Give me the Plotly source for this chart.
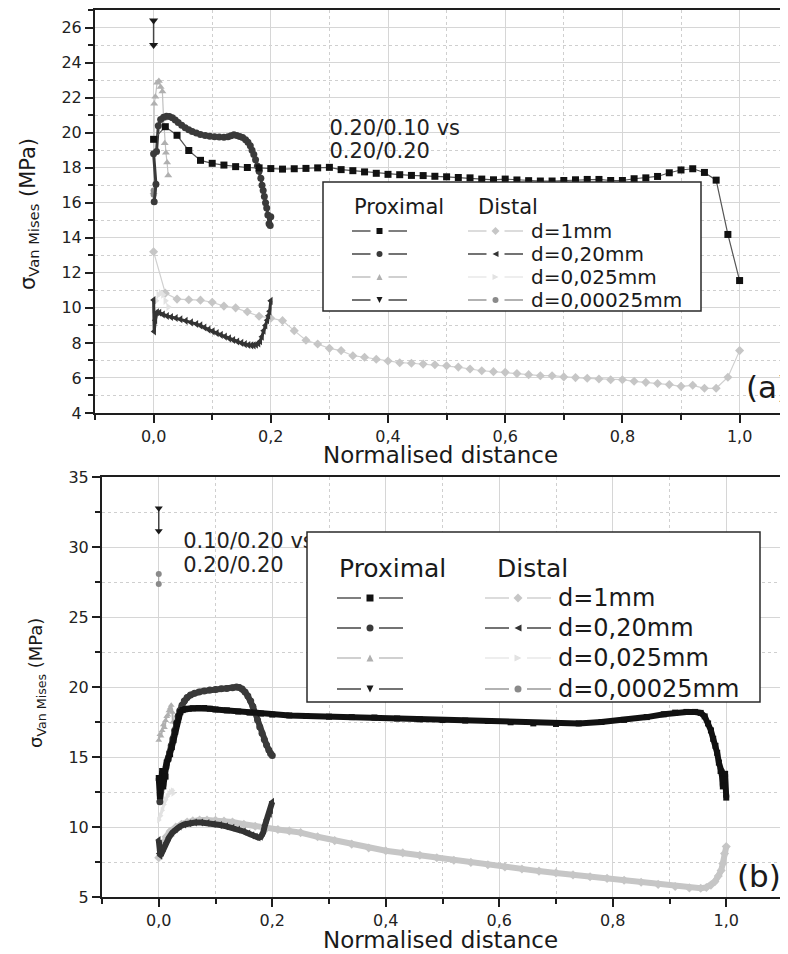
import plotly.graph_objects as go

# The page body has an 8 px margin, so the figure is sized to fill the rest of the 788x954 window.
OFF = 8
W, H = 788 - OFF, 954 - OFF
FONT = "DejaVu Sans"

# ================= DATA =================
LEGEND_LABELS = ["d=1mm", "d=0,20mm", "d=0,025mm", "d=0,00025mm"]
TITLE_A = ["0.20/0.10 vs", "0.20/0.20"]
TITLE_B = ["0.10/0.20 vs", "0.20/0.20"]

# ---- panel (a): Proximal ----
a_p1_x = [0.0, 0.02, 0.04, 0.06, 0.08, 0.10, 0.12, 0.14, 0.16, 0.18, 0.20, 0.22, 0.24, 0.26, 0.28, 0.30,
          0.32, 0.34, 0.36, 0.38, 0.40, 0.42, 0.44, 0.46, 0.48, 0.50, 0.52, 0.54, 0.56, 0.58, 0.60, 0.62,
          0.64, 0.66, 0.68, 0.70, 0.72, 0.74, 0.76, 0.78, 0.80, 0.82, 0.84, 0.86, 0.88, 0.90, 0.92, 0.94,
          0.96, 0.98, 1.00]
a_p1_y = [19.62, 20.34, 19.85, 18.98, 18.42, 18.25, 18.15, 18.06, 18.01, 17.99, 17.95, 17.92, 17.94, 17.96,
          17.99, 18.02, 17.89, 17.83, 17.76, 17.68, 17.62, 17.60, 17.56, 17.55, 17.51, 17.48, 17.44, 17.42,
          17.35, 17.31, 17.35, 17.30, 17.26, 17.24, 17.24, 17.27, 17.31, 17.33, 17.33, 17.27, 17.27, 17.37,
          17.42, 17.50, 17.71, 17.87, 17.94, 17.73, 17.29, 14.19, 11.56]

a_p2_x = [0.001, 0.004, 0.0, 0.005, 0.008, 0.012, 0.017, 0.022, 0.027, 0.032, 0.037, 0.042, 0.048, 0.054,
          0.060, 0.066, 0.073, 0.080, 0.088, 0.096, 0.104, 0.112, 0.120, 0.127, 0.132, 0.137, 0.142, 0.147,
          0.152, 0.157, 0.161, 0.165, 0.168, 0.171, 0.174, 0.177, 0.180, 0.183, 0.185, 0.187, 0.189, 0.191,
          0.193, 0.195, 0.197, 0.199, 0.200]
a_p2_y = [16.05, 17.05, 18.80, 18.92, 20.40, 20.75, 20.88, 20.93, 20.92, 20.85, 20.72, 20.58, 20.42, 20.28,
          20.16, 20.06, 19.98, 19.90, 19.84, 19.80, 19.77, 19.75, 19.74, 19.76, 19.82, 19.88, 19.84, 19.78,
          19.72, 19.60, 19.45, 19.25, 19.00, 18.75, 18.45, 18.10, 17.80, 17.40, 17.00, 16.70, 16.35, 16.00,
          15.70, 15.30, 14.80, 14.70, 15.20]

a_p3_x = [0.0, 0.001, 0.003, 0.006, 0.009, 0.012, 0.015, 0.017, 0.019, 0.021, 0.023, 0.025]
a_p3_y = [16.6, 21.65, 22.05, 22.85, 22.95, 22.6, 22.35, 20.8, 19.4, 18.85, 18.3, 17.55]

a_p4_x = [0.0, 0.0]
a_p4_y = [26.4, 25.0]

# ---- panel (a): Distal ----
a_d1_x = [0.0, 0.02, 0.04, 0.06, 0.08, 0.10, 0.12, 0.14, 0.16, 0.18, 0.20, 0.22, 0.24, 0.26, 0.28, 0.30,
          0.32, 0.34, 0.36, 0.38, 0.40, 0.42, 0.44, 0.46, 0.48, 0.50, 0.52, 0.54, 0.56, 0.58, 0.60, 0.62,
          0.64, 0.66, 0.68, 0.70, 0.72, 0.74, 0.76, 0.78, 0.80, 0.82, 0.84, 0.86, 0.88, 0.90, 0.92, 0.94,
          0.96, 0.98, 1.00]
a_d1_y = [13.2, 10.84, 10.5, 10.46, 10.44, 10.32, 10.1, 10.0, 9.78, 9.52, 9.41, 9.27, 8.7, 8.15, 7.94, 7.69,
          7.56, 7.27, 7.18, 7.07, 6.97, 6.87, 6.84, 6.79, 6.75, 6.70, 6.62, 6.51, 6.41, 6.36, 6.32, 6.25,
          6.19, 6.13, 6.13, 6.06, 6.02, 5.98, 5.94, 5.90, 5.90, 5.81, 5.75, 5.68, 5.62, 5.52, 5.58, 5.41,
          5.41, 6.04, 7.56]

a_d2_x = [0.0, 0.001, 0.003, 0.006, 0.010, 0.016, 0.023, 0.030, 0.038, 0.046, 0.055, 0.064, 0.073, 0.080,
          0.087, 0.094, 0.101, 0.108, 0.115, 0.122, 0.129, 0.136, 0.143, 0.150, 0.156, 0.162, 0.167, 0.171,
          0.175, 0.179, 0.182, 0.185, 0.188, 0.191, 0.194, 0.196, 0.198, 0.200]
a_d2_y = [10.45, 8.65, 9.30, 9.75, 9.72, 9.62, 9.54, 9.48, 9.42, 9.35, 9.26, 9.17, 9.08, 9.00, 8.88, 8.76,
          8.66, 8.56, 8.46, 8.36, 8.26, 8.17, 8.08, 8.00, 7.93, 7.88, 7.86, 7.86, 7.90, 7.97, 8.10, 8.35,
          8.70, 9.00, 9.30, 9.55, 9.80, 10.40]

a_d3_x = [0.0, 0.004, 0.008, 0.012, 0.016, 0.020, 0.025]
a_d3_y = [9.9, 10.4, 10.75, 10.85, 10.75, 10.4, 10.05]

a_d4_x = [0.0, 0.0]
a_d4_y = [16.7, 16.45]

# ---- panel (b): Proximal ----
b_p1_x = [0.000, 0.002, 0.004, 0.006, 0.008, 0.010, 0.012, 0.014, 0.017, 0.020, 0.023, 0.026, 0.029, 0.032,
          0.035, 0.038, 0.042, 0.047, 0.053, 0.060, 0.070, 0.080, 0.090, 0.100, 0.120, 0.140, 0.160, 0.180,
          0.200, 0.230, 0.260, 0.300, 0.340, 0.380, 0.420, 0.460, 0.500, 0.540, 0.580, 0.620, 0.660, 0.700,
          0.740, 0.780, 0.820, 0.860, 0.890, 0.910, 0.930, 0.945, 0.955, 0.962, 0.968, 0.973, 0.977, 0.981,
          0.984, 0.987, 0.990, 0.992, 0.994, 0.996, 0.998, 1.000]
b_p1_y = [13.5, 12.2, 13.0, 14.0, 12.9, 13.9, 13.6, 14.6, 14.9, 15.2, 15.7, 16.2, 16.8, 17.4, 17.9, 18.2,
          18.35, 18.42, 18.45, 18.48, 18.5, 18.5, 18.45, 18.4, 18.33, 18.25, 18.17, 18.1, 18.03, 17.97, 17.93,
          17.88, 17.85, 17.82, 17.75, 17.69, 17.64, 17.6, 17.57, 17.48, 17.4, 17.36, 17.4, 17.5, 17.65, 17.85,
          18.05, 18.17, 18.22, 18.22, 18.15, 17.9, 17.4, 16.9, 16.3, 15.8, 15.3, 14.6, 14.0, 13.9, 12.9, 13.4,
          13.8, 12.1]

b_p2_x = [0.002, 0.004, 0.007, 0.010, 0.013, 0.016, 0.019, 0.022, 0.025, 0.028, 0.031, 0.034, 0.037, 0.041,
          0.045, 0.050, 0.056, 0.063, 0.071, 0.080, 0.090, 0.100, 0.110, 0.120, 0.130, 0.137, 0.142, 0.147,
          0.152, 0.157, 0.162, 0.166, 0.170, 0.174, 0.178, 0.182, 0.186, 0.190, 0.194, 0.197, 0.200]
b_p2_y = [11.8, 12.8, 13.4, 13.9, 14.3, 14.8, 15.3, 15.8, 16.3, 16.9, 17.4, 17.9, 18.3, 18.7, 19.0, 19.25,
          19.43, 19.55, 19.65, 19.72, 19.78, 19.83, 19.87, 19.9, 19.95, 20.0, 19.97, 19.85, 19.65, 19.35, 19.0,
          18.6, 18.15, 17.65, 17.15, 16.7, 16.25, 15.85, 15.5, 15.25, 15.1]

b_p3_x = [0.0, 0.002, 0.004, 0.006, 0.008, 0.010, 0.012, 0.014, 0.016, 0.018, 0.020, 0.022, 0.024, 0.025]
b_p3_y = [16.2, 16.6, 16.5, 16.9, 17.3, 17.1, 17.6, 17.9, 18.0, 18.3, 18.5, 18.7, 18.2, 17.5]

b_p4_x = [0.0, 0.0]
b_p4_y = [32.76, 31.14]

# ---- panel (b): Distal ----
b_d1_x = [0.000, 0.004, 0.008, 0.013, 0.020, 0.030, 0.040, 0.050, 0.060, 0.072, 0.085, 0.100, 0.115, 0.130,
          0.150, 0.170, 0.190, 0.210, 0.230, 0.250, 0.280, 0.310, 0.340, 0.370, 0.400, 0.430, 0.460, 0.490,
          0.520, 0.550, 0.580, 0.610, 0.640, 0.670, 0.700, 0.730, 0.760, 0.790, 0.820, 0.850, 0.880, 0.910,
          0.935, 0.955, 0.965, 0.973, 0.980, 0.986, 0.991, 0.994, 0.997, 1.000]
b_d1_y = [7.8, 8.3, 8.8, 9.3, 9.7, 10.0, 10.2, 10.35, 10.45, 10.5, 10.5, 10.48, 10.42, 10.35, 10.2, 10.05,
          9.92, 9.82, 9.72, 9.6, 9.3, 9.03, 8.78, 8.5, 8.3, 8.15, 7.98, 7.8, 7.62, 7.47, 7.3, 7.15, 7.0, 6.85,
          6.72, 6.58, 6.45, 6.33, 6.2, 6.05, 5.9, 5.75, 5.65, 5.62, 5.68, 5.85, 6.1, 6.5, 6.9, 7.4, 8.1, 8.6]

b_d2_x = [0.000, 0.001, 0.003, 0.006, 0.009, 0.013, 0.018, 0.024, 0.030, 0.037, 0.045, 0.054, 0.064, 0.075,
          0.086, 0.097, 0.108, 0.119, 0.130, 0.140, 0.150, 0.158, 0.165, 0.171, 0.176, 0.180, 0.184, 0.187,
          0.190, 0.193, 0.196, 0.198, 0.200]
b_d2_y = [9.07, 8.1, 7.95, 8.2, 8.5, 8.85, 9.25, 9.6, 9.85, 10.03, 10.18, 10.27, 10.32, 10.32, 10.28, 10.22,
          10.14, 10.05, 9.95, 9.82, 9.68, 9.53, 9.4, 9.3, 9.25, 9.3, 9.6, 10.1, 10.5, 10.8, 10.95, 11.2, 11.8]

b_d3_x = [0.0, 0.003, 0.006, 0.009, 0.012, 0.015, 0.018, 0.021, 0.024, 0.025]
b_d3_y = [10.5, 10.8, 11.2, 11.6, 11.95, 12.2, 12.4, 12.5, 12.6, 12.4]

b_d4_x = [0.0, 0.0]
b_d4_y = [28.07, 27.36]

# ================= STYLES =================
# (symbol, marker colour, line colour)
PROX = [("square", "#111111", "#555555"), ("circle", "#3a3a3a", "#444444"),
        ("triangle-up", "#b0b0b0", "#c0c0c0"), ("triangle-down", "#1a1a1a", "#444444")]
DIST = [("diamond", "#c6c6c6", "#d0d0d0"), ("triangle-left", "#333333", "#444444"),
        ("triangle-right", "#e2e2e2", "#e8e8e8"), ("circle", "#8a8a8a", "#999999")]

fig = go.Figure()


def add(x, y, xa, ya, style, size, lw, name, dense=False):
    sym, mc, lc = style
    fig.add_trace(go.Scatter(
        x=x, y=y, xaxis=xa, yaxis=ya, mode="lines+markers", name=name, showlegend=False,
        marker=dict(symbol=sym, size=size, color=mc, line=dict(width=0)),
        line=dict(color=mc if dense else lc, width=lw), hoverinfo="skip"))


# panel (a)
add(a_d1_x, a_d1_y, "x", "y", DIST[0], 7, 1.2, "Distal d=1mm")
add(a_d3_x, a_d3_y, "x", "y", DIST[2], 7, 1, "Distal d=0,025mm")
add(a_p3_x, a_p3_y, "x", "y", PROX[2], 7, 1.2, "Proximal d=0,025mm")
add(a_d2_x, a_d2_y, "x", "y", DIST[1], 7, 3, "Distal d=0,20mm", dense=True)
add(a_d4_x, a_d4_y, "x", "y", DIST[3], 6, 1, "Distal d=0,00025mm")
add(a_p2_x, a_p2_y, "x", "y", PROX[1], 7, 3, "Proximal d=0,20mm", dense=True)
add(a_p4_x, a_p4_y, "x", "y", PROX[3], 8, 1.5, "Proximal d=0,00025mm")
add(a_p1_x, a_p1_y, "x", "y", PROX[0], 7, 1.2, "Proximal d=1mm")

# panel (b)
add(b_d1_x, b_d1_y, "x2", "y2", DIST[0], 7, 6, "Distal d=1mm", dense=True)
add(b_d3_x, b_d3_y, "x2", "y2", DIST[2], 6, 3, "Distal d=0,025mm", dense=True)
add(b_p3_x, b_p3_y, "x2", "y2", PROX[2], 6, 2, "Proximal d=0,025mm", dense=True)
add(b_d2_x, b_d2_y, "x2", "y2", DIST[1], 7, 6, "Distal d=0,20mm", dense=True)
add(b_d4_x, b_d4_y, "x2", "y2", DIST[3], 6, 1, "Distal d=0,00025mm")
add(b_p2_x, b_p2_y, "x2", "y2", PROX[1], 7, 6, "Proximal d=0,20mm", dense=True)
add(b_p4_x, b_p4_y, "x2", "y2", PROX[3], 7, 1.5, "Proximal d=0,00025mm")
add(b_p1_x, b_p1_y, "x2", "y2", PROX[0], 6, 6, "Proximal d=1mm", dense=True)

# comparison captions (text traces so that the legend box can cover them)
fig.add_trace(go.Scatter(x=[0.300, 0.300], y=[20.17, 18.86], xaxis="x", yaxis="y", mode="text",
                         text=TITLE_A, textposition="middle right", showlegend=False, hoverinfo="skip",
                         textfont=dict(family=FONT, size=21, color="#222")))
fig.add_trace(go.Scatter(x=[0.043, 0.043], y=[30.29, 28.57], xaxis="x2", yaxis="y2", mode="text",
                         text=TITLE_B, textposition="middle right", showlegend=False, hoverinfo="skip",
                         textfont=dict(family=FONT, size=21, color="#222")))


# ================= LAYOUT HELPERS (window pixels -> paper fractions) =================
def PX(v):
    return (v - OFF) / W


def PY(v):
    return 1 - (v - OFF) / H


GRID = "#d6d6d6"
MINOR_GRID = "#cfcfcf"


def axis_common(dtick, mdtick, rng, domain, mirror, fmt=None):
    d = dict(range=rng, domain=domain, dtick=dtick, tick0=0, tickmode="linear", automargin=False,
             showline=True, linecolor="#1e1e1e",
             linewidth=2, mirror=mirror, ticks="outside", ticklen=8, tickwidth=2, tickcolor="#1e1e1e",
             showgrid=True, gridcolor=GRID, gridwidth=1, zeroline=False,
             tickfont=dict(family=FONT, size=16, color="#222"),
             minor=dict(dtick=mdtick, tick0=0, ticks="outside", ticklen=5, tickwidth=2, tickcolor="#1e1e1e",
                        showgrid=True, gridcolor=MINOR_GRID, griddash="dot", gridwidth=1))
    if fmt:
        d["tickformat"] = fmt
    return d


x_right_a = -0.1 + (788 - 95) / 586.0
fig.update_layout(
    template="none",
    width=W, height=H, margin=dict(l=0, r=0, t=0, b=0, pad=0, autoexpand=False),
    paper_bgcolor="white", plot_bgcolor="white", separators=",.", showlegend=False,
    font=dict(family=FONT, color="#222"),
    xaxis=dict(axis_common(0.2, 0.1, [-0.1, x_right_a], [PX(95), 1.0], True, ".1f"), anchor="y"),
    yaxis=dict(axis_common(2, 1, [4, 27], [PY(413), PY(10)], False), anchor="x"),
    xaxis2=dict(axis_common(0.2, 0.1, [-0.1, 1.1], [PX(102), PX(783)], True, ".1f"), anchor="y2"),
    yaxis2=dict(axis_common(5, 2.5, [5, 35], [PY(897), PY(477)], True), anchor="x2"),
)

shapes = []
annotations = []


def marker_shape(kind, cx, cy, s, color):
    h = s / 2.0
    if kind == "square":
        return dict(type="rect", xref="paper", yref="paper", x0=PX(cx - h), x1=PX(cx + h),
                    y0=PY(cy + h), y1=PY(cy - h), fillcolor=color, line=dict(width=0), layer="above")
    if kind == "circle":
        return dict(type="circle", xref="paper", yref="paper", x0=PX(cx - h), x1=PX(cx + h),
                    y0=PY(cy + h), y1=PY(cy - h), fillcolor=color, line=dict(width=0), layer="above")
    pts = {
        "triangle-up": [(cx, cy - h), (cx + h, cy + h), (cx - h, cy + h)],
        "triangle-down": [(cx, cy + h), (cx + h, cy - h), (cx - h, cy - h)],
        "triangle-left": [(cx - h, cy), (cx + h, cy - h), (cx + h, cy + h)],
        "triangle-right": [(cx + h, cy), (cx - h, cy - h), (cx - h, cy + h)],
        "diamond": [(cx, cy - h - 1), (cx + h + 1, cy), (cx, cy + h + 1), (cx - h - 1, cy)],
    }[kind]
    path = "M " + " L ".join(f"{PX(a):.5f},{PY(b):.5f}" for a, b in pts) + " Z"
    return dict(type="path", xref="paper", yref="paper", path=path, fillcolor=color,
                line=dict(width=0), layer="above")


def seg(x0, x1, y, color):
    return dict(type="line", xref="paper", yref="paper", x0=PX(x0), x1=PX(x1), y0=PY(y), y1=PY(y),
                line=dict(color=color, width=1.5), layer="above")


def text(t, x, y, size, xanchor="left", angle=0, color="#1a1a1a"):
    annotations.append(dict(text=t, x=PX(x), y=PY(y), xref="paper", yref="paper", showarrow=False,
                            xanchor=xanchor, yanchor="middle", textangle=angle,
                            font=dict(family=FONT, size=size, color=color)))


def legend(box, head_y, head_px, head_dx, head_size, rows_y, p_line, d_line, label_x, label_size, msize):
    x0, y0, x1, y1 = box
    shapes.append(dict(type="rect", xref="paper", yref="paper", x0=PX(x0), x1=PX(x1), y0=PY(y1), y1=PY(y0),
                       fillcolor="white", line=dict(color="#2a2a2a", width=1.5), layer="above"))
    text("Proximal", head_px, head_y, head_size)
    text("Distal", head_dx, head_y, head_size)
    for i, ry in enumerate(rows_y):
        for (la, lb), style in ((p_line, PROX[i]), (d_line, DIST[i])):
            sym, mc, lc = style
            cm = (la + lb) / 2.0
            shapes.append(seg(la, cm - 9, ry, lc))
            shapes.append(seg(cm + 9, lb, ry, lc))
            shapes.append(marker_shape(sym, cm, ry, msize, mc))
        text(LEGEND_LABELS[i], label_x, ry, label_size)


legend((323, 182, 701, 311), 207, 352, 476, 21, [231, 254, 277, 300], (352, 407), (468, 523), 529, 20, 6)
legend((307, 532, 760, 702), 568, 337, 495, 25, [598, 628, 658, 689], (337, 403), (485, 551), 556, 24, 7)

# axis titles
text("σ<sub>Van Mises</sub> (MPa)", 29, 214, 21, xanchor="center", angle=-90)
text("σ<sub>Van Mises</sub> (MPa)", 37, 683, 18, xanchor="center", angle=-90)
text("Normalised distance", 440, 455, 23, xanchor="center")
text("Normalised distance", 440, 940, 23, xanchor="center")
# panel tags
text("(a)", 744, 387, 31)
text("(b)", 735, 876, 31)

fig.update_layout(shapes=shapes, annotations=annotations)
fig.write_html("out.html")
